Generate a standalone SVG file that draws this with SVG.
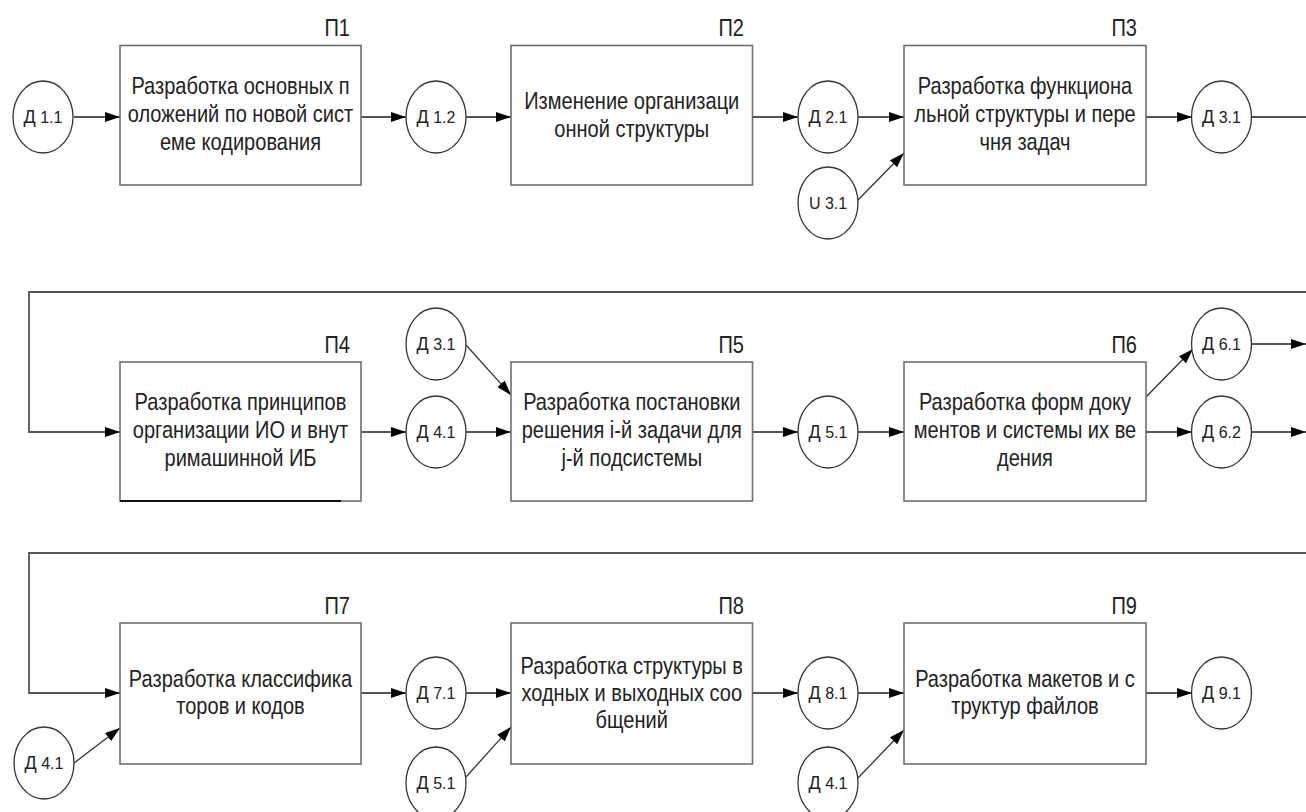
<svg xmlns="http://www.w3.org/2000/svg" width="1306" height="812" viewBox="0 0 1306 812">
<defs>
<marker id="ah" markerUnits="userSpaceOnUse" markerWidth="15" markerHeight="10" refX="15" refY="5" orient="auto">
<path d="M0,0 L15,5 L0,10 z" fill="#000"/>
</marker>
<style>
.box{fill:#fff;stroke:#6e6e6e;stroke-width:1.6}
.ell{fill:#fff;stroke:#333;stroke-width:1.3}
.t{font-family:"Liberation Sans",Arial,sans-serif;font-size:24px;fill:#222;text-anchor:middle}
.p{font-family:"Liberation Sans",Arial,sans-serif;font-size:24px;fill:#222;text-anchor:end}
.d{font-family:"Liberation Sans",Arial,sans-serif;font-size:16px;fill:#222;text-anchor:middle}
.dd{font-size:18px}
.c{fill:none;stroke:#555;stroke-width:1.8}
.a{fill:none;stroke:#555;stroke-width:1.8;marker-end:url(#ah)}
.dg{fill:none;stroke:#333;stroke-width:1.3;marker-end:url(#ah)}
</style>
</defs>
<rect width="1306" height="812" fill="#fff"/>

<g id="connectors">
<line class="a" x1="74" y1="117" x2="120" y2="117"/>
<line class="a" x1="361" y1="117" x2="406" y2="117"/>
<line class="a" x1="466" y1="117" x2="511" y2="117"/>
<line class="a" x1="752.5" y1="117" x2="798" y2="117"/>
<line class="a" x1="858" y1="117" x2="904" y2="117"/>
<line class="dg" x1="858" y1="200" x2="904" y2="153"/>
<line class="a" x1="1146" y1="117" x2="1192" y2="117"/>
<line class="c" x1="1251" y1="117" x2="1306" y2="117"/>

<polyline class="a" points="1306,292 29,292 29,432 120,432"/>
<line class="a" x1="361" y1="432" x2="406" y2="432"/>
<line class="a" x1="466" y1="432" x2="511" y2="432"/>
<line class="dg" x1="466" y1="345" x2="511" y2="395"/>
<line class="a" x1="752.5" y1="432" x2="798" y2="432"/>
<line class="a" x1="858" y1="432" x2="904" y2="432"/>
<line class="dg" x1="1146" y1="397" x2="1193" y2="349"/>
<line class="a" x1="1146" y1="432" x2="1192" y2="432"/>
<line class="a" x1="1251" y1="344" x2="1306" y2="344"/>
<line class="a" x1="1251" y1="432" x2="1306" y2="432"/>

<polyline class="a" points="1306,553 29,553 29,693 120,693"/>
<line class="dg" x1="74" y1="763" x2="120" y2="728"/>
<line class="a" x1="361" y1="693" x2="406" y2="693"/>
<line class="a" x1="466" y1="693" x2="511" y2="693"/>
<line class="dg" x1="466" y1="777" x2="511" y2="727"/>
<line class="a" x1="752.5" y1="693" x2="798" y2="693"/>
<line class="a" x1="858" y1="693" x2="904" y2="693"/>
<line class="dg" x1="858" y1="778" x2="904" y2="730"/>
<line class="a" x1="1146" y1="693" x2="1192" y2="693"/>
</g>

<g id="P1">
<rect class="box" x="120" y="45.5" width="241" height="139.5"/>
<text class="p" transform="translate(350 0) scale(0.835 1)" x="0" y="36">П1</text>
<g transform="translate(240.5 0) scale(0.835 1)">
<text class="t" x="0" y="94">Разработка основных п</text>
<text class="t" x="0" y="122">оложений по новой сист</text>
<text class="t" x="0" y="150">еме кодирования</text>
</g>
</g>
<g id="P2">
<rect class="box" x="511" y="45.5" width="241.5" height="139.5"/>
<text class="p" transform="translate(744 0) scale(0.835 1)" x="0" y="36">П2</text>
<g transform="translate(631.75 0) scale(0.835 1)">
<text class="t" x="0" y="109">Изменение организаци</text>
<text class="t" x="0" y="137">онной структуры</text>
</g>
</g>
<g id="P3">
<rect class="box" x="904" y="45.5" width="242" height="139.5"/>
<text class="p" transform="translate(1137 0) scale(0.835 1)" x="0" y="36">П3</text>
<g transform="translate(1025 0) scale(0.835 1)">
<text class="t" x="0" y="94">Разработка функциона</text>
<text class="t" x="0" y="122">льной структуры и пере</text>
<text class="t" x="0" y="150">чня задач</text>
</g>
</g>
<g id="D11"><ellipse class="ell" cx="43" cy="117" rx="30" ry="36"/><text class="d" x="43" y="123"><tspan class="dd">Д</tspan> 1.1</text></g>
<g id="D12"><ellipse class="ell" cx="436" cy="117" rx="30" ry="36"/><text class="d" x="436" y="123"><tspan class="dd">Д</tspan> 1.2</text></g>
<g id="D21"><ellipse class="ell" cx="828" cy="117" rx="30" ry="36"/><text class="d" x="828" y="123"><tspan class="dd">Д</tspan> 2.1</text></g>
<g id="U31"><ellipse class="ell" cx="828" cy="203" rx="30" ry="36"/><text class="d" x="828" y="209">U 3.1</text></g>
<g id="D31a"><ellipse class="ell" cx="1221.5" cy="117" rx="30" ry="36"/><text class="d" x="1221.5" y="123"><tspan class="dd">Д</tspan> 3.1</text></g>

<g id="P4">
<rect class="box" x="120" y="362" width="241" height="139"/>
<line x1="120" y1="501" x2="341" y2="501" stroke="#111" stroke-width="2"/>
<text class="p" transform="translate(350 0) scale(0.835 1)" x="0" y="353">П4</text>
<g transform="translate(240.5 0) scale(0.835 1)">
<text class="t" x="0" y="410">Разработка принципов</text>
<text class="t" x="0" y="438">организации ИО и внут</text>
<text class="t" x="0" y="466">римашинной ИБ</text>
</g>
</g>
<g id="P5">
<rect class="box" x="511" y="362" width="241.5" height="139"/>
<text class="p" transform="translate(744 0) scale(0.835 1)" x="0" y="353">П5</text>
<g transform="translate(631.75 0) scale(0.835 1)">
<text class="t" x="0" y="410">Разработка постановки</text>
<text class="t" x="0" y="438">решения i-й задачи для</text>
<text class="t" x="0" y="466">j-й подсистемы</text>
</g>
</g>
<g id="P6">
<rect class="box" x="904" y="362" width="242" height="139"/>
<text class="p" transform="translate(1137 0) scale(0.835 1)" x="0" y="353">П6</text>
<g transform="translate(1025 0) scale(0.835 1)">
<text class="t" x="0" y="410">Разработка форм доку</text>
<text class="t" x="0" y="438">ментов и системы их ве</text>
<text class="t" x="0" y="466">дения</text>
</g>
</g>
<g id="D31b"><ellipse class="ell" cx="436" cy="344" rx="30" ry="36"/><text class="d" x="436" y="350"><tspan class="dd">Д</tspan> 3.1</text></g>
<g id="D41a"><ellipse class="ell" cx="436" cy="432" rx="30" ry="36"/><text class="d" x="436" y="438"><tspan class="dd">Д</tspan> 4.1</text></g>
<g id="D51a"><ellipse class="ell" cx="828" cy="432" rx="30" ry="36"/><text class="d" x="828" y="438"><tspan class="dd">Д</tspan> 5.1</text></g>
<g id="D61"><ellipse class="ell" cx="1221.5" cy="344" rx="30" ry="36"/><text class="d" x="1221.5" y="350"><tspan class="dd">Д</tspan> 6.1</text></g>
<g id="D62"><ellipse class="ell" cx="1221.5" cy="432" rx="30" ry="36"/><text class="d" x="1221.5" y="438"><tspan class="dd">Д</tspan> 6.2</text></g>

<g id="P7">
<rect class="box" x="120" y="623" width="241" height="141"/>
<text class="p" transform="translate(350 0) scale(0.835 1)" x="0" y="614">П7</text>
<g transform="translate(240.5 0) scale(0.835 1)">
<text class="t" x="0" y="687">Разработка классифика</text>
<text class="t" x="0" y="714">торов и кодов</text>
</g>
</g>
<g id="P8">
<rect class="box" x="511" y="623" width="241.5" height="141"/>
<text class="p" transform="translate(744 0) scale(0.835 1)" x="0" y="614">П8</text>
<g transform="translate(631.75 0) scale(0.835 1)">
<text class="t" x="0" y="674">Разработка структуры в</text>
<text class="t" x="0" y="701">ходных и выходных соо</text>
<text class="t" x="0" y="728">бщений</text>
</g>
</g>
<g id="P9">
<rect class="box" x="904" y="623" width="242" height="141"/>
<text class="p" transform="translate(1137 0) scale(0.835 1)" x="0" y="614">П9</text>
<g transform="translate(1025 0) scale(0.835 1)">
<text class="t" x="0" y="687">Разработка макетов и с</text>
<text class="t" x="0" y="714">труктур файлов</text>
</g>
</g>
<g id="D41b"><ellipse class="ell" cx="44" cy="763" rx="30" ry="36"/><text class="d" x="44" y="769"><tspan class="dd">Д</tspan> 4.1</text></g>
<g id="D71"><ellipse class="ell" cx="436" cy="693" rx="30" ry="36"/><text class="d" x="436" y="699"><tspan class="dd">Д</tspan> 7.1</text></g>
<g id="D51b"><ellipse class="ell" cx="436" cy="783" rx="30" ry="36"/><text class="d" x="436" y="789"><tspan class="dd">Д</tspan> 5.1</text></g>
<g id="D81"><ellipse class="ell" cx="828" cy="693" rx="30" ry="36"/><text class="d" x="828" y="699"><tspan class="dd">Д</tspan> 8.1</text></g>
<g id="D41c"><ellipse class="ell" cx="828" cy="783" rx="30" ry="36"/><text class="d" x="828" y="789"><tspan class="dd">Д</tspan> 4.1</text></g>
<g id="D91"><ellipse class="ell" cx="1221.5" cy="693" rx="30" ry="36"/><text class="d" x="1221.5" y="699"><tspan class="dd">Д</tspan> 9.1</text></g>
</svg>
